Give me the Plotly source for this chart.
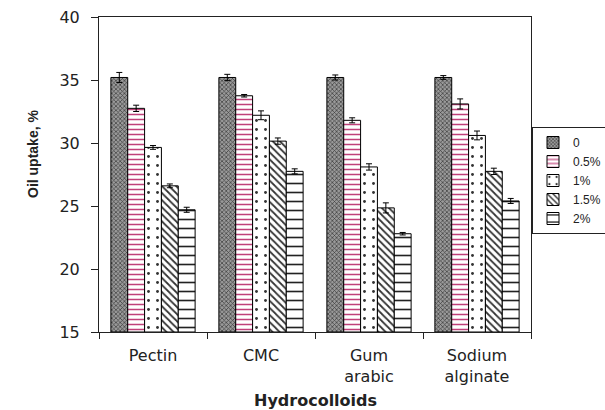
import plotly.graph_objects as go

categories = ["Pectin", "CMC", "Gum<br>arabic", "Sodium<br>alginate"]
series_names = ["0", "0.5%", "1%", "1.5%", "2%"]
values = {
    "0":    [35.2, 35.2, 35.2, 35.2],
    "0.5%": [32.75, 33.75, 31.8, 33.1],
    "1%":   [29.65, 32.2, 28.1, 30.6],
    "1.5%": [26.6, 30.15, 24.85, 27.75],
    "2%":   [24.7, 27.75, 22.8, 25.4],
}
errors = {
    "0":    [0.4, 0.25, 0.2, 0.15],
    "0.5%": [0.25, 0.1, 0.2, 0.4],
    "1%":   [0.15, 0.35, 0.25, 0.35],
    "1.5%": [0.15, 0.25, 0.4, 0.25],
    "2%":   [0.2, 0.2, 0.1, 0.2],
}

patterns = {
    "0":    dict(shape="x", bgcolor="#9a9a9a", fgcolor="#3a3a3a", size=3, solidity=0.4, fillmode="replace"),
    "0.5%": dict(shape="-", bgcolor="white", fgcolor="#c0407a", size=5, solidity=0.3, fillmode="replace"),
    "1%":   dict(shape=".", bgcolor="white", fgcolor="#333333", size=9, solidity=0.08, fillmode="replace"),
    "1.5%": dict(shape="\\", bgcolor="white", fgcolor="#333333", size=5, solidity=0.35, fillmode="replace"),
    "2%":   dict(shape="-", bgcolor="white", fgcolor="#222222", size=9, solidity=0.18, fillmode="replace"),
}

fig = go.Figure()
for name in series_names:
    fig.add_trace(go.Bar(
        name=name,
        x=categories,
        y=[v - 15 for v in values[name]],
        base=15,
        marker=dict(color="white", pattern=patterns[name], line=dict(color="black", width=1)),
        error_y=dict(type="data", array=errors[name], color="black", thickness=1, width=3),
    ))

W, H = 605, 410
L, T = 99, 17
PW, PH = 432, 315
R, B = W - L - PW, H - T - PH

def px_x(x):
    return (x - L) / PW

def px_y(y):
    return (T + PH - y) / PH

sans = "Liberation Sans, Arial, sans-serif"
wide = "DejaVu Sans, sans-serif"
fig.update_layout(
    width=W, height=H,
    margin=dict(l=L, r=R, t=T, b=B, autoexpand=False),
    paper_bgcolor="white", plot_bgcolor="white",
    barmode="group", bargap=0.22, bargroupgap=0,
    font=dict(family=sans, size=15, color="#222"),
    showlegend=True,
    legend=dict(x=px_x(532), y=px_y(127), xanchor="left", yanchor="top",
                bordercolor="#222", borderwidth=1, font=dict(size=12, family=sans),
                tracegroupgap=0, itemwidth=30, bgcolor="white"),
    xaxis=dict(
        automargin=False,
        showline=True, linecolor="#222", linewidth=1, mirror=True,
        ticks="outside", tickson="boundaries", ticklen=6, tickcolor="#222",
        ticklabelstandoff=9,
        tickfont=dict(size=16, family=wide),
    ),
    yaxis=dict(
        automargin=False,
        range=[15, 40], dtick=5, showgrid=False, zeroline=False,
        showline=True, linecolor="#222", linewidth=1, mirror=True,
        ticks="outside", ticklen=7, tickcolor="#222", ticklabelstandoff=8,
        ticklabeloverflow="allow",
        tickfont=dict(size=16, family=wide),
    ),
    annotations=[
        dict(text="<b>Oil uptake, %</b>", textangle=-90, xref="paper", yref="paper",
             x=px_x(33), y=px_y(154), xanchor="center", yanchor="middle", showarrow=False,
             font=dict(size=14, family=sans, color="#222")),
        dict(text="<b>Hydrocolloids</b>", xref="paper", yref="paper",
             x=px_x(L + PW / 2), y=px_y(400), xanchor="center", yanchor="middle", showarrow=False,
             font=dict(size=16, family=wide, color="#222")),
    ],
)

fig.write_html(
    "out.html",
    config={"displayModeBar": False},
    post_script="document.body.style.margin='0';document.body.style.overflow='hidden';",
)
